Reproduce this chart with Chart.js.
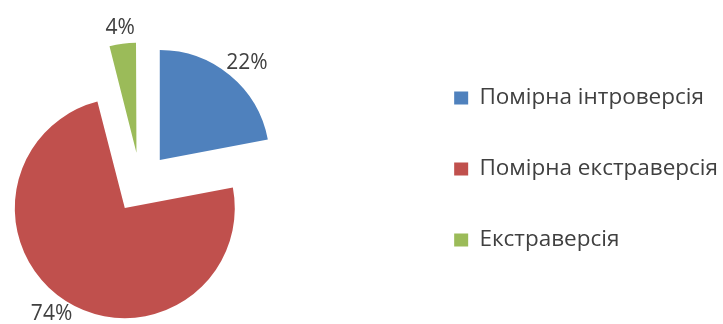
<!DOCTYPE html>
<html>
<head>
<meta charset="utf-8">
<script src="https://cdn.jsdelivr.net/npm/chart.js@4"></script>
<style>
html,body{margin:0;padding:0;background:#fff;overflow:hidden;width:723px;height:324px;}
#wrap{position:relative;width:853px;height:329px;margin-left:-125px;}
#wrap canvas{position:absolute;left:0;top:0;display:block;}
</style>
</head>
<body>
<div id="wrap">
  <canvas id="c0" width="853" height="329"></canvas>
  <canvas id="c1" width="853" height="329"></canvas>
  <canvas id="c2" width="853" height="329"></canvas>
</div>
<script>
const categories = ['Помірна інтроверсія', 'Помірна екстраверсія', 'Екстраверсія'];
const values = [22, 74, 4];
const valueLabels = ['22%', '74%', '4%'];
const colors = ['#4F81BD', '#C0504D', '#9BBB59'];

// styling: drawn radius and explode distance of each slice (px)
const R = 110;
const shifts = [30.5, 29, 31];
const total = values.reduce((a, b) => a + b, 0);

// Chart.js enlarges and narrows exploded arcs; work out radius/spacing so each
// slice is drawn with radius R and its true angle.
function sliceStyle(idx) {
  const alpha = values[idx] / total * 2 * Math.PI;
  const fix = 1 - Math.sin(Math.min(Math.PI, alpha));
  const ro = shifts[idx] * fix;
  const k = ro / (Math.PI * R * alpha);
  const s = -(R / 2) * k / (1 + k);
  return { radius: R - s - ro, spacing: 2 * s, offset: shifts[idx] * 4 };
}

function labelPlugin(idx) {
  return {
    id: 'pctLabel' + idx,
    afterDatasetsDraw(chart) {
      const arc = chart.getDatasetMeta(0).data[idx];
      const p = arc.getProps(['x', 'y', 'startAngle', 'endAngle', 'outerRadius', 'circumference'], true);
      const t = (arc.options.offset || 0) / 4;
      const sp = (arc.options.spacing || 0) / 2;
      const fix = 1 - Math.sin(Math.min(Math.PI, p.circumference || 0));
      const r = p.outerRadius + t * fix + sp;
      const mid = (p.startAngle + p.endAngle) / 2;
      const c = Math.cos(mid), s = Math.sin(mid);
      const vx = p.x + c * t, vy = p.y + s * t;
      const ctx = chart.ctx;
      ctx.save();
      ctx.font = '21px "Open Sans"';
      ctx.fillStyle = '#404040';
      ctx.textAlign = 'center';
      ctx.textBaseline = 'middle';
      const w = ctx.measureText(valueLabels[idx]).width;
      const h = 20;
      const d = r + 6;
      ctx.fillText(valueLabels[idx], vx + c * d + c * w / 2, vy + s * d + s * h / 2);
      ctx.restore();
    }
  };
}

function layer(idx, canvasId, showText) {
  const st = sliceStyle(idx);
  return new Chart(document.getElementById(canvasId), {
    type: 'pie',
    data: {
      labels: categories,
      datasets: [{
        data: values,
        backgroundColor: colors.map((col, i) => i === idx ? col : 'rgba(0,0,0,0)'),
        borderWidth: 0,
        offset: st.offset,
        spacing: st.spacing
      }]
    },
    options: {
      responsive: false,
      animation: false,
      radius: st.radius,
      layout: { padding: { left: 0, right: 0, top: 38.25, bottom: 0 } },
      plugins: {
        tooltip: { enabled: false },
        legend: {
          position: 'right',
          align: 'start',
          labels: {
            font: { family: '"Open Sans"', size: 22.5 },
            color: showText ? '#404040' : 'rgba(0,0,0,0)',
            boxWidth: 14,
            boxHeight: 13,
            padding: 48.5
          }
        }
      }
    },
    plugins: [labelPlugin(idx)]
  });
}

layer(1, 'c0', true);
layer(0, 'c1', false);
layer(2, 'c2', false);
</script>
</body>
</html>
